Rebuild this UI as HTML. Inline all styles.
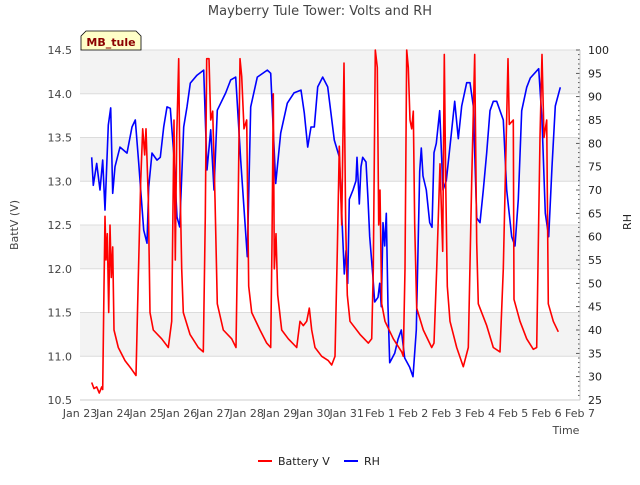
<!DOCTYPE html>
<html><head><meta charset="utf-8"><style>
body{margin:0;background:#fff;font-family:"Liberation Sans","DejaVu Sans",sans-serif}
svg text{font-family:"DejaVu Sans","Liberation Sans",sans-serif}
</style></head><body>
<svg id="chart" width="640" height="480" viewBox="0 0 640 480">
<g id="bands"></g>
<g id="grid"></g>
<g id="axes"></g>
<g id="series"></g>
<text x="320" y="15" text-anchor="middle" font-size="13" fill="#444">Mayberry Tule Tower: Volts and RH</text>
<g>
<path d="M81,50 L81,36 L86,31 L136,31 L141,36 L141,50 Z" fill="#ffffc8" stroke="#000" stroke-width="0.8"/>
<text x="111" y="46" text-anchor="middle" font-size="11" font-weight="bold" fill="#8b0000">MB_tule</text>
</g>
<text transform="translate(18,225) rotate(-90)" text-anchor="middle" font-size="11" fill="#444">BattV (V)</text>
<text transform="translate(631,222) rotate(-90)" text-anchor="middle" font-size="11" fill="#222">RH</text>
<text x="566" y="434" text-anchor="middle" font-size="11" fill="#444">Time</text>
<g>
<g><line x1="258" y1="461" x2="272" y2="461" stroke="#f00" stroke-width="2"/><text x="278" y="465" font-size="11" fill="#222">Battery V</text></g>
<g><line x1="344" y1="461" x2="358" y2="461" stroke="#00f" stroke-width="2"/><text x="364" y="465" font-size="11" fill="#222">RH</text></g>
</g>
</svg>
<script>
const xTickLabels=["Jan 23","Jan 24","Jan 25","Jan 26","Jan 27","Jan 28","Jan 29","Jan 30","Jan 31","Feb 1","Feb 2","Feb 3","Feb 4","Feb 5","Feb 6","Feb 7"];
const leftTicks=[10.5,11.0,11.5,12.0,12.5,13.0,13.5,14.0,14.5];
const rightTicks=[25,30,35,40,45,50,55,60,65,70,75,80,85,90,95,100];
const battT=[0.35,0.42,0.5,0.58,0.65,0.68,0.72,0.75,0.78,0.82,0.86,0.9,0.94,0.98,1.02,1.15,1.35,1.55,1.68,1.75,1.82,1.88,1.94,1.98,2.05,2.1,2.2,2.45,2.65,2.75,2.82,2.86,2.9,2.96,3.0,3.05,3.1,3.3,3.55,3.7,3.76,3.8,3.87,3.92,3.98,4.05,4.12,4.3,4.55,4.68,4.74,4.8,4.85,4.92,5.0,5.06,5.15,5.4,5.6,5.72,5.76,5.8,5.83,5.88,5.93,6.05,6.25,6.5,6.6,6.7,6.8,6.88,6.95,7.05,7.25,7.45,7.55,7.65,7.72,7.78,7.85,7.92,7.97,8.02,8.1,8.4,8.65,8.75,8.8,8.86,8.92,8.96,9.0,9.05,9.15,9.4,9.65,9.7,9.75,9.8,9.85,9.9,9.95,10.0,10.04,10.1,10.3,10.55,10.62,10.7,10.8,10.88,10.93,10.97,11.02,11.1,11.3,11.5,11.65,11.75,11.84,11.9,11.95,12.2,12.4,12.6,12.7,12.84,12.88,13.0,13.02,13.2,13.4,13.6,13.7,13.8,13.86,13.92,14.0,14.05,14.2,14.35];
const battV=[10.7,10.63,10.65,10.58,10.65,10.62,11.8,12.6,12.1,12.4,11.5,12.5,11.9,12.25,11.3,11.1,10.95,10.85,10.78,11.9,13.0,13.6,13.3,13.6,12.8,11.5,11.3,11.2,11.1,11.4,13.7,12.1,13.5,14.4,13.0,12.0,11.5,11.25,11.1,11.05,12.6,14.4,14.4,13.7,13.8,12.8,11.6,11.3,11.2,11.1,12.6,14.4,14.2,13.6,13.7,11.8,11.5,11.3,11.15,11.1,12.3,14.0,12.0,12.4,11.7,11.3,11.2,11.1,11.4,11.35,11.4,11.55,11.3,11.1,11.0,10.95,10.9,11.0,12.2,13.4,12.5,14.35,12.5,11.7,11.4,11.25,11.15,11.2,12.0,14.5,14.3,12.5,12.9,11.6,11.4,11.2,11.05,11.0,12.0,14.5,14.3,13.7,13.6,13.8,12.5,11.55,11.3,11.1,11.15,12.0,13.2,12.2,14.45,13.0,11.8,11.4,11.1,10.88,11.1,13.0,14.45,12.3,11.6,11.35,11.1,11.05,12.0,14.4,13.65,13.7,11.65,11.4,11.2,11.08,11.1,13.5,14.45,13.5,13.7,11.6,11.4,11.28];
const rhT=[0.35,0.40,0.50,0.60,0.68,0.75,0.85,0.92,0.98,1.05,1.20,1.41,1.56,1.66,1.76,1.91,2.01,2.06,2.16,2.31,2.41,2.51,2.61,2.71,2.81,2.91,2.99,3.11,3.21,3.31,3.51,3.71,3.81,3.92,4.02,4.12,4.22,4.37,4.52,4.67,4.82,5.02,5.12,5.32,5.62,5.72,5.87,6.02,6.22,6.42,6.63,6.73,6.83,6.93,7.03,7.13,7.28,7.43,7.63,7.78,7.93,7.98,8.03,8.08,8.19,8.28,8.31,8.38,8.43,8.48,8.58,8.64,8.69,8.78,8.84,8.94,8.99,9.04,9.09,9.14,9.19,9.24,9.29,9.44,9.54,9.64,9.74,9.89,9.99,10.09,10.19,10.24,10.29,10.39,10.49,10.56,10.62,10.69,10.79,10.89,10.99,11.14,11.24,11.35,11.45,11.60,11.70,11.80,11.90,12.0,12.1,12.2,12.3,12.40,12.50,12.70,12.80,12.95,13.05,13.15,13.25,13.40,13.51,13.76,13.86,13.96,14.06,14.16,14.26,14.41];
const rhV=[77,71,75.7,70,76.4,65.7,83.9,87.6,69.3,75,79.2,77.9,83.5,85,75.8,61.4,58.6,70.6,77.9,76.4,77,83.5,87.8,87.5,77.9,64.2,62.1,83.5,87.8,92.9,94.6,95.7,74.3,82.9,70,87.1,88.6,90.8,93.6,94.2,76.4,55.7,87.8,94.2,95.7,95,71.4,82.2,88.6,90.8,91.4,86.5,79.2,83.5,83.5,92.1,94.2,92.1,80.7,77.1,52,57,50,68,70,72,77,67,75,77,76,68,60,52,46,47,50,45,63,58,65,45,33,35,38,40,34,32,30,40,74,79,73,70,63,62,78,80,87,70,72,82,89,81,88,93,93,88,64,63,70,78,87,89,89,85,70,60,58,68,87,92,94,96,85,65,60,75,88,92];
const NS="http://www.w3.org/2000/svg";
const X0=80,X1=580,Y0=400,Y1=50;
function xs(d){return X0+d*(X1-X0)/15;}
function yL(v){return Y0-(v-10.5)/4*(Y0-Y1);}
function yR(v){return Y0-(v-25)/75*(Y0-Y1);}
function mk(tag,attrs,parent){const e=document.createElementNS(NS,tag);for(const k in attrs)e.setAttribute(k,attrs[k]);parent.appendChild(e);return e;}
const bands=document.getElementById('bands'),grid=document.getElementById('grid'),axes=document.getElementById('axes'),series=document.getElementById('series');
for(let i=0;i<leftTicks.length-1;i++){
  if(i%2===1){const r=mk('rect',{x:X0,y:yL(leftTicks[i+1]),width:X1-X0,height:yL(leftTicks[i])-yL(leftTicks[i+1]),fill:'#f3f3f3'},bands);
  
  }
}
leftTicks.forEach(v=>{
  const l=mk('line',{x1:X0,x2:X1,y1:yL(v),y2:yL(v),stroke:'#dcdcdc','stroke-width':1},grid);
  
  
  const t=mk('text',{x:X0-8,y:yL(v)+4,'text-anchor':'end','font-size':11,fill:'#444'},axes);
  t.textContent=v.toFixed(1);
  
  
});
rightTicks.forEach(v=>{
  const t=mk('text',{x:X1+8,y:yR(v)+4,'font-size':11,fill:'#222'},axes);
  t.textContent=v;
  
  
});
for(let v=25;v<=100;v++){mk('line',{x1:X1,x2:X1-(v%5===0?4:2),y1:yR(v),y2:yR(v),stroke:'#333','stroke-width':0.8},axes);}
mk('line',{x1:X0,x2:X1,y1:Y0,y2:Y0,stroke:'#ccc'},axes);
mk('line',{x1:X1,x2:X1,y1:Y0,y2:Y1,stroke:'#ccc'},axes);
xTickLabels.forEach((s,i)=>{
  const t=mk('text',{x:xs(i),y:Y0+17,'text-anchor':'middle','font-size':11,fill:'#444'},axes);
  t.textContent=s;
  
  
});
function line(T,V,yf,color,name){
  const p=mk('polyline',{points:T.map((t,i)=>xs(t).toFixed(1)+','+yf(V[i]).toFixed(1)).join(' '),fill:'none',stroke:color,'stroke-width':1.6,'stroke-linejoin':'round'},series);
  
  
}
line(rhT,rhV,yR,'#0000ff','rh-line');
line(battT,battV,yL,'#ff0000','battery-v-line');
</script>
</body></html>
